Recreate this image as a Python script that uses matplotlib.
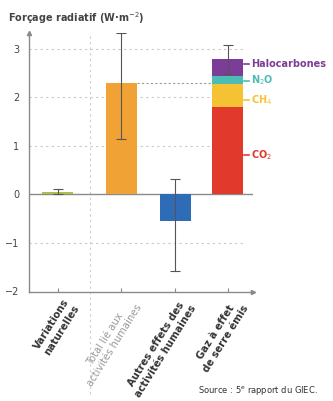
import matplotlib
matplotlib.use("Agg")
import matplotlib.pyplot as plt
import numpy as np

# valeurs (W.m-2)
categories = ["Variations\nnaturelles", "Total lié aux\nactivités humaines",
              "Autres effets des\nactivités humaines", "Gaz à effet\nde serre émis"]
values = [0.05, 2.29, -0.55]
err_low = [0.05, 1.16, 1.03]
err_high = [0.05, 1.04, 0.85]
bar_colors = ["#a9c24d", "#f0a234", "#2f6cb6"]

gases = ["CO$_2$", "CH$_4$", "N$_2$O", "Halocarbones"]
gas_values = [1.79, 0.47, 0.17, 0.36]
gas_colors = ["#e1392c", "#f4c232", "#4cbdb4", "#7b3d97"]
gas_label_y = [0.8, 1.93, 2.34, 2.69]
ghg_err = (0.31, 0.28)

pos = [28.5, 92, 146, 198.5]
w = 31
axis_grey = "#8a8a8a"

fig = plt.figure(figsize=(3.33, 4.01), dpi=100)
ax = fig.add_axes([29 / 333, 1 - 292 / 401, 224 / 333, (292 - 33) / 401])
ax.set_xlim(0, 224)
ax.set_ylim(-2.02, 3.32)

for y in [3, 2, 1, -1]:
    ax.axhline(y, xmin=0, xmax=216 / 224, color="#c8c8c8", lw=0.8, ls=(0, (2, 3)), zorder=0)
ax.axhline(0, color=axis_grey, lw=1.0, zorder=1)

# barres simples
ax.bar(pos[:3], values, width=w, color=bar_colors, zorder=2)
ax.errorbar(pos[:3], values, yerr=[err_low, err_high], fmt="none",
            ecolor="#555555", elinewidth=0.8, capsize=3.5, capthick=0.8, zorder=3)

# barre empilée des gaz
bottom = 0
for v, c in zip(gas_values, gas_colors):
    ax.bar(pos[3], v, width=w, bottom=bottom, color=c, zorder=2)
    bottom += v
ax.errorbar([pos[3]], [bottom], yerr=[[ghg_err[0]], [ghg_err[1]]], fmt="none",
            ecolor="#555555", elinewidth=0.8, capsize=3.5, capthick=0.8, zorder=3)

for name, c, ly in zip(gases, gas_colors, gas_label_y):
    ax.plot([pos[3] + w / 2 + 1, pos[3] + w / 2 + 6], [ly, ly], color=c, lw=1.2, clip_on=False)
    ax.text(pos[3] + w / 2 + 8, ly, name, color=c, fontsize=7, fontweight="bold",
            va="center", ha="left", clip_on=False)

# liaison pointillée entre total et gaz
ax.plot([pos[1] + w / 2, pos[3] - w / 2], [values[1], values[1]],
        color="#9a9a9a", lw=0.8, ls=(0, (2, 2)), zorder=1)

# séparation verticale
ax.plot([61, 61], [3.26, -4.13], color="#cccccc", lw=0.8, ls=(0, (2, 3)),
        clip_on=False, zorder=0)

for s in ["top", "right"]:
    ax.spines[s].set_visible(False)
for s in ["left", "bottom"]:
    ax.spines[s].set_color(axis_grey)
    ax.spines[s].set_linewidth(1.0)
ax.plot(1, -2.02, marker=">", color=axis_grey, ms=3, transform=ax.get_yaxis_transform(), clip_on=False)
ax.plot(0, 1, marker="^", color=axis_grey, ms=3, transform=ax.transAxes, clip_on=False)

ax.set_yticks([-2, -1, 0, 1, 2, 3])
ax.set_yticklabels(["\u22122", "\u22121", "0", "1", "2", "3"])
ax.tick_params(axis="y", length=0, pad=7, labelsize=7, labelcolor="#444444")
ax.set_xticks(pos)
ax.set_xticklabels([])
ax.tick_params(axis="x", direction="in", length=3, color=axis_grey)

label_colors = ["#333333", "#999999", "#333333", "#333333"]
label_weights = ["bold", "normal", "bold", "bold"]
for p, lab, c, fw in zip(pos, categories, label_colors, label_weights):
    ax.text(p + 5, -2.12, lab, rotation=58, rotation_mode="anchor", ha="right", va="top",
            fontsize=7.2, color=c, fontweight=fw, multialignment="center")

fig.text(8 / 333, 1 - 22 / 401, "Forçage radiatif (W·m$^{-2}$)", fontsize=7,
         fontweight="bold", color="#444444")
fig.text(318 / 333, 1 - 393 / 401, "Source : 5$^{e}$ rapport du GIEC.", fontsize=6,
         color="#333333", ha="right")

fig.savefig("out.png", dpi=100)
